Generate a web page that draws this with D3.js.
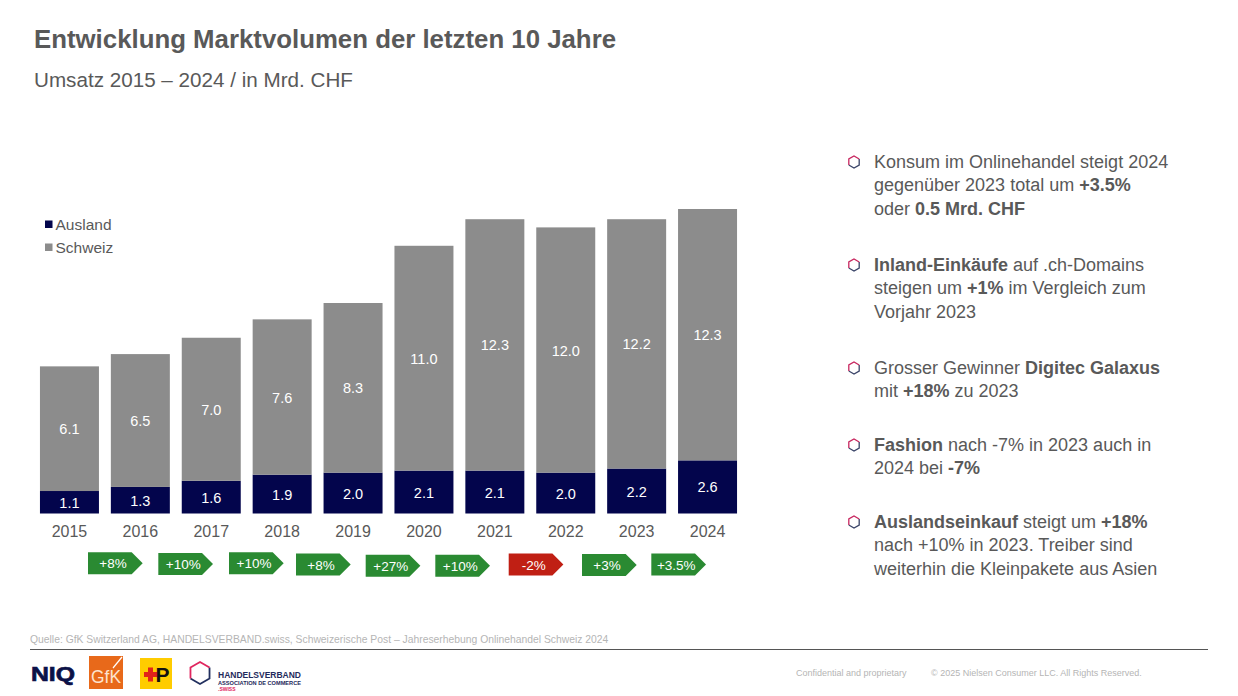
<!DOCTYPE html>
<html lang="de">
<head>
<meta charset="utf-8">
<title>Entwicklung Marktvolumen</title>
<script src="https://cdn.jsdelivr.net/npm/d3@7"></script>
<style>
  html, body { margin: 0; padding: 0; background: #fff; overflow: hidden; }
  svg { display: block; font-family: "Liberation Sans", Arial, sans-serif; }
</style>
</head>
<body>
<div id="chart"></div>
<script>
// Werte
const years = ["2015", "2016", "2017", "2018", "2019", "2020", "2021", "2022", "2023", "2024"];
const ausland = [1.1, 1.3, 1.6, 1.9, 2.0, 2.1, 2.1, 2.0, 2.2, 2.6];
const schweiz = [6.1, 6.5, 7.0, 7.6, 8.3, 11.0, 12.3, 12.0, 12.2, 12.3];
const growthLabels = ["+8%", "+10%", "+10%", "+8%", "+27%", "+10%", "-2%", "+3%", "+3.5%"];
const seriesNames = ["Ausland", "Schweiz"];

// Bullet-Texte: [text, fett]
const notes = [
    { y: 167.5, lines: [[["Konsum im Onlinehandel steigt 2024", false]],
                        [["gegenüber 2023 total um ", false], ["+3.5%", true]],
                        [["oder ", false], ["0.5 Mrd. CHF", true]]] },
    { y: 270.5, lines: [[["Inland-Einkäufe", true], [" auf .ch-Domains", false]],
                        [["steigen um ", false], ["+1%", true], [" im Vergleich zum", false]],
                        [["Vorjahr 2023", false]]] },
    { y: 373.5, lines: [[["Grosser Gewinner ", false], ["Digitec Galaxus", true]],
                        [["mit ", false], ["+18%", true], [" zu 2023", false]]] },
    { y: 450.5, lines: [[["Fashion", true], [" nach -7% in 2023 auch in", false]],
                        [["2024 bei ", false], ["-7%", true]]] },
    { y: 527.5, lines: [[["Auslandseinkauf", true], [" steigt um ", false], ["+18%", true]],
                        [["nach +10% in 2023. Treiber sind", false]],
                        [["weiterhin die Kleinpakete aus Asien", false]]] }
];

const width = 1238;
const height = 696;
const textColor = "#595959";
const navy = "#03054c";
const grey = "#8c8c8c";
const green = "#2a8a32";
const red = "#c01f14";

const svg = d3.select("#chart").append("svg")
    .attr("width", width)
    .attr("height", height);

// Titel
svg.append("text").attr("x", 34).attr("y", 48)
    .attr("font-size", 25.8).attr("font-weight", "bold").attr("fill", textColor)
    .text("Entwicklung Marktvolumen der letzten 10 Jahre");
svg.append("text").attr("x", 34).attr("y", 87)
    .attr("font-size", 20.65).attr("fill", textColor)
    .text("Umsatz 2015 – 2024 / in Mrd. CHF");

// Skalen
const xScale = d3.scaleBand()
    .domain(years)
    .range([34, 743])
    .paddingInner(0.168)
    .paddingOuter(0.084);

const yScale = d3.scaleLinear()
    .domain([0, 14.9])
    .range([513.5, 209]);

const stacked = d3.stack().keys(seriesNames)(years.map((year, i) => ({
    year: year,
    Ausland: ausland[i],
    Schweiz: schweiz[i]
})));

const colorScale = d3.scaleOrdinal().domain(seriesNames).range([navy, grey]);

// Gestapelte Balken
const layers = svg.selectAll("g.layer").data(stacked).enter().append("g")
    .attr("class", "layer")
    .attr("fill", d => colorScale(d.key));

layers.selectAll("rect").data(d => d).enter().append("rect")
    .attr("x", d => xScale(d.data.year))
    .attr("y", d => yScale(d[1]))
    .attr("width", xScale.bandwidth())
    .attr("height", d => yScale(d[0]) - yScale(d[1]));

// Werte in den Balken
layers.selectAll("text").data(d => d.map(p => ({ p: p, key: d.key }))).enter().append("text")
    .attr("x", d => xScale(d.p.data.year) + xScale.bandwidth() / 2)
    .attr("y", d => (yScale(d.p[0]) + yScale(d.p[1])) / 2 + 5.5)
    .attr("text-anchor", "middle")
    .attr("font-size", 14.5)
    .attr("fill", "#fff")
    .text(d => d.p.data[d.key].toFixed(1));

// x-Achse ohne Linie
const xAxis = svg.append("g")
    .attr("transform", "translate(0,513.5)")
    .call(d3.axisBottom(xScale).tickSize(0).tickPadding(12));
xAxis.select(".domain").remove();
xAxis.selectAll("text")
    .attr("font-family", "Liberation Sans, Arial, sans-serif")
    .attr("font-size", 16)
    .attr("fill", textColor);

// Legende
const legend = svg.selectAll("g.legend").data(seriesNames).enter().append("g")
    .attr("class", "legend")
    .attr("transform", (d, i) => `translate(45,${224.5 + i * 23})`);
legend.append("rect")
    .attr("x", 0).attr("y", -4).attr("width", 7.5).attr("height", 7.5)
    .attr("fill", d => colorScale(d));
legend.append("text")
    .attr("x", 10.5).attr("y", 5.5)
    .attr("font-size", 15.5).attr("fill", textColor)
    .text(d => d);

// Wachstums-Pfeile, im Original von Hand gesetzt
const badgeLeft = [88, 158.3, 229, 296, 365.7, 435.3, 508.7, 582, 651.3];
const badgeTop = [552.3, 553, 552.3, 553.5, 554.8, 554.8, 553.5, 554, 553.5];
const badgeW = 54.7;
const badgeH = 22;
const badges = svg.selectAll("g.badge").data(growthLabels).enter().append("g")
    .attr("class", "badge")
    .attr("transform", (d, i) => `translate(${badgeLeft[i]},${badgeTop[i]})`);
badges.append("path")
    .attr("d", `M0,0H${badgeW - 11}L${badgeW},${badgeH / 2}L${badgeW - 11},${badgeH}H0Z`)
    .attr("fill", d => d.startsWith("-") ? red : green);
badges.append("text")
    .attr("x", 25).attr("y", 16)
    .attr("text-anchor", "middle")
    .attr("font-size", 13.5)
    .attr("fill", "#fff")
    .text(d => d);

// Sechseck für Bullets und Logo: oben rosa, unten dunkelblau
function drawHex(parent, r, strokeWidth, topColor, bottomColor) {
    const pts = d3.range(6).map(i => {
        const a = Math.PI / 3 * i - Math.PI / 2;
        return [r * Math.cos(a), r * Math.sin(a)];
    });
    parent.append("path").attr("d", d3.line()([pts[1], pts[2], pts[3], pts[4]]))
        .attr("fill", "none").attr("stroke", bottomColor).attr("stroke-width", strokeWidth);
    parent.append("path").attr("d", d3.line()([pts[4], pts[5], pts[0], pts[1]]))
        .attr("fill", "none").attr("stroke", topColor).attr("stroke-width", strokeWidth);
}

// Bullets rechts
notes.forEach(note => {
    const g = svg.append("g").attr("transform", `translate(854,${note.y - 5.5})`);
    drawHex(g, 6, 1.3, "#c8265f", "#3a4468");

    note.lines.forEach((line, i) => {
        const t = svg.append("text")
            .attr("x", 874).attr("y", note.y + i * 23.6)
            .attr("font-size", 18).attr("fill", textColor)
            .attr("xml:space", "preserve");
        line.forEach(part => {
            t.append("tspan")
                .attr("font-weight", part[1] ? "bold" : "normal")
                .text(part[0]);
        });
    });
});

// Fusszeile
svg.append("text").attr("x", 30).attr("y", 643)
    .attr("font-size", 10.35).attr("fill", "#b5b5b5")
    .text("Quelle: GfK Switzerland AG, HANDELSVERBAND.swiss, Schweizerische Post – Jahreserhebung Onlinehandel Schweiz 2024");
svg.append("line")
    .attr("x1", 30).attr("x2", 1208).attr("y1", 649.5).attr("y2", 649.5)
    .attr("stroke", "#555").attr("stroke-width", 1);
svg.append("text").attr("x", 796).attr("y", 676)
    .attr("font-size", 9).attr("fill", "#b5b5b5")
    .text("Confidential and proprietary");
svg.append("text").attr("x", 931).attr("y", 676)
    .attr("font-size", 9).attr("fill", "#b5b5b5")
    .text("© 2025 Nielsen Consumer LLC. All Rights Reserved.");

// Logos
svg.append("text").attr("x", 31).attr("y", 680.5)
    .attr("font-size", 21).attr("font-weight", "bold").attr("fill", "#0b1147")
    .attr("stroke", "#0b1147").attr("stroke-width", 0.7)
    .attr("textLength", 44).attr("lengthAdjust", "spacingAndGlyphs")
    .text("NIQ");

svg.append("rect").attr("x", 89).attr("y", 656).attr("width", 34).attr("height", 33).attr("fill", "#e8691a");
svg.append("text").attr("x", 91).attr("y", 683)
    .attr("font-size", 19).attr("fill", "#fde3cf")
    .attr("textLength", 30).attr("lengthAdjust", "spacingAndGlyphs")
    .text("GfK");
svg.append("line").attr("x1", 113).attr("y1", 668).attr("x2", 122).attr("y2", 657)
    .attr("stroke", "#fff").attr("stroke-width", 1.2);

svg.append("rect").attr("x", 140).attr("y", 658).attr("width", 32).attr("height", 31).attr("fill", "#ffcc00");
svg.append("path").attr("d", "M144,672h4v-4.5h5v4.5h4v5h-4v4.5h-5v-4.5h-4Z").attr("fill", "#e2231a");
svg.append("text").attr("x", 155.5).attr("y", 682)
    .attr("font-size", 21).attr("font-weight", "bold").attr("fill", "#111")
    .text("P");

const logoHex = svg.append("g").attr("transform", "translate(200,673)");
drawHex(logoHex, 11, 1.8, "#e0265f", "#22305f");
svg.append("text").attr("x", 218).attr("y", 678)
    .attr("font-size", 8.2).attr("font-weight", "bold").attr("fill", "#1f2a5c")
    .attr("textLength", 83).attr("lengthAdjust", "spacingAndGlyphs")
    .text("HANDELSVERBAND");
svg.append("text").attr("x", 218).attr("y", 685)
    .attr("font-size", 5).attr("font-weight", "bold").attr("fill", "#1f2a5c")
    .attr("textLength", 83).attr("lengthAdjust", "spacingAndGlyphs")
    .text("ASSOCIATION DE COMMERCE");
svg.append("text").attr("x", 218).attr("y", 691)
    .attr("font-size", 5).attr("font-weight", "bold").attr("fill", "#e0265f")
    .text(".SWISS");
</script>
</body>
</html>
